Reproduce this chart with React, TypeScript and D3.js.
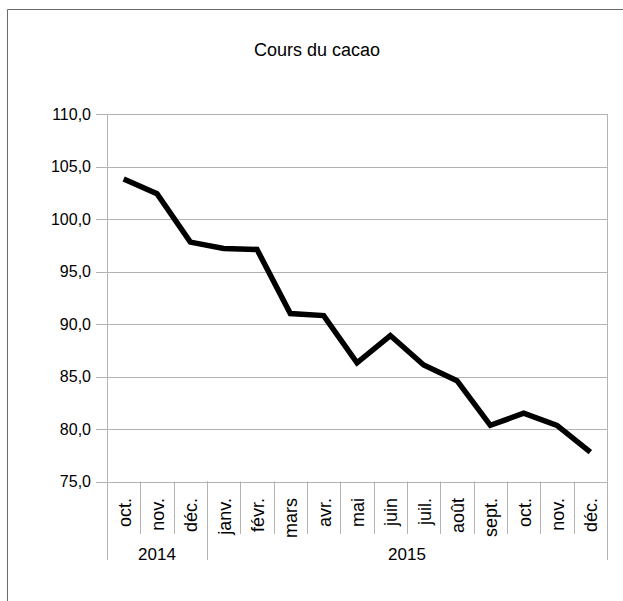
import React from 'react';
import * as d3 from 'd3';

const width = 623;
const height = 601;
const margin = { top: 114, right: 20, bottom: 119.5, left: 107 };

// cocoa price, oct. 2014 -> déc. 2015
const months = ['oct.', 'nov.', 'déc.', 'janv.', 'févr.', 'mars', 'avr.', 'mai', 'juin', 'juil.', 'août', 'sept.', 'oct.', 'nov.', 'déc.'];
const years = ['2014', '2015'];
const yearOfMonth = [0, 0, 0, 1, 1, 1, 1, 1, 1, 1, 1, 1, 1, 1, 1];
const prices = [103.8, 102.4, 97.8, 97.2, 97.1, 91.0, 90.8, 86.3, 88.9, 86.1, 84.6, 80.35, 81.5, 80.35, 77.8];
const yTicks = [75, 80, 85, 90, 95, 100, 105, 110];

const font = 'Liberation Sans, Arial, sans-serif';
const gridColor = '#b3b3b3';

export default function App() {
	const x0 = margin.left;
	const x1 = width - margin.right + 4;
	const y0 = height - margin.bottom;
	const y1 = margin.top;

	const xScale = d3
		.scaleBand()
		.domain(months.map((m, i) => String(i)))
		.range([x0, x1])
		.padding(0);

	const yScale = d3.scaleLinear().domain([75, 110]).range([y0, y1]);

	const bw = xScale.bandwidth();
	const cx = (i: number) => (xScale(String(i)) as number) + bw / 2;

	const line = d3
		.line<number>()
		.x((d, i) => cx(i))
		.y(d => yScale(d));

	const fmt = (v: number) => v.toFixed(1).replace('.', ',');

	// year groups: start and end index
	const groups = years.map((y, k) => {
		const idx = yearOfMonth.map((g, i) => (g === k ? i : -1)).filter(i => i >= 0);
		return { label: y, first: idx[0], last: idx[idx.length - 1] };
	});

	return (
		<svg width={width} height={height} style={{ position: 'absolute', left: 0, top: 0 }}>
			<rect x={0} y={0} width={width} height={height} fill="#fff" />
			<line x1={7.5} y1={9.5} x2={width} y2={9.5} stroke="#6b6b6b" />
			<line x1={7.5} y1={9.5} x2={7.5} y2={height} stroke="#6b6b6b" />

			<text x={317} y={56} textAnchor="middle" fontFamily={font} fontSize={18} fill="#000">
				Cours du cacao
			</text>

			{yTicks.map(t => (
				<g key={t}>
					<line x1={x0 - 11} x2={x1} y1={Math.round(yScale(t)) + 0.5} y2={Math.round(yScale(t)) + 0.5} stroke={gridColor} />
					<text x={x0 - 16} y={yScale(t)} dy="0.35em" textAnchor="end" fontFamily={font} fontSize={16} fill="#000">
						{fmt(t)}
					</text>
				</g>
			))}

			<line x1={x0 + 0.5} x2={x0 + 0.5} y1={y1} y2={y0} stroke={gridColor} />
			<line x1={x1 + 0.5} x2={x1 + 0.5} y1={y1} y2={y0} stroke={gridColor} />

			{months.map((m, i) => {
				const bx = xScale(String(i)) as number;
				return (
					<g key={i}>
						<line x1={Math.round(bx) + 0.5} x2={Math.round(bx) + 0.5} y1={y0} y2={534} stroke={gridColor} />
						<text
							transform={`translate(${cx(i)},${498}) rotate(-90)`}
							dy="0.38em"
							textAnchor="end"
							fontFamily={font}
							fontSize={18}
							fill="#000"
						>
							{m}
						</text>
					</g>
				);
			})}

			{groups.map(g => {
				const a = xScale(String(g.first)) as number;
				const b = (xScale(String(g.last)) as number) + bw;
				return (
					<g key={g.label}>
						<line x1={Math.round(a) + 0.5} x2={Math.round(a) + 0.5} y1={y0} y2={560} stroke={gridColor} />
						<line x1={Math.round(b) + 0.5} x2={Math.round(b) + 0.5} y1={y0} y2={560} stroke={gridColor} />
						<text x={(a + b) / 2} y={560} textAnchor="middle" fontFamily={font} fontSize={17} fill="#000">
							{g.label}
						</text>
					</g>
				);
			})}

			<path d={line(prices) || ''} fill="none" stroke="#000" strokeWidth={5.5} strokeLinejoin="miter" />
		</svg>
	);
}
